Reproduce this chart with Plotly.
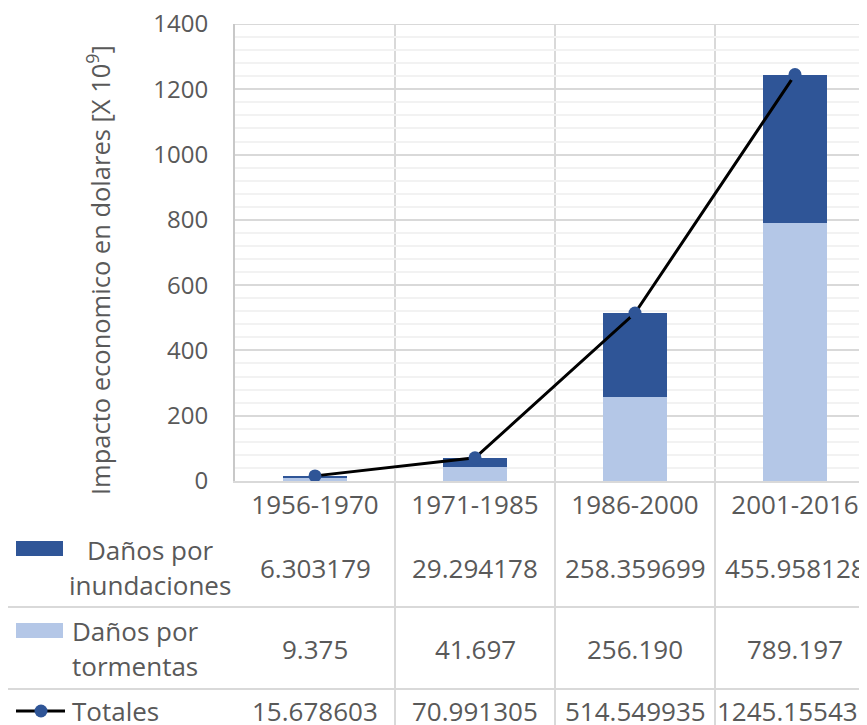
import plotly.graph_objects as go

categories = ["1956-1970", "1971-1985", "1986-2000", "2001-2016"]
inundaciones = [6.303179, 29.294178, 258.359699, 455.958128]
tormentas = [9.375, 41.697, 256.190, 789.197]
totales = [15.678603, 70.991305, 514.549935, 1245.155435]
inund_labels = ["6.303179", "29.294178", "258.359699", "455.958128"]
torm_labels = ["9.375", "41.697", "256.190", "789.197"]
tot_labels = ["15.678603", "70.991305", "514.549935", "1245.155435"]
y_ticks = [0, 200, 400, 600, 800, 1000, 1200, 1400]

# page body has an 8px margin; work in reference pixels and shift
OFF = 8
W, H = 867 - OFF, 725 - OFF
L, T = 235 - OFF, 24 - OFF
PW, PH = 632, 457
R = W - L - PW
B = H - T - PH
BOTTOM = T + PH

def px_x(X):
    return (X - OFF - L) / PW

def px_y(Y):
    return (BOTTOM - (Y - OFF)) / PH

DARK = "#2F5597"
LIGHT = "#B4C7E7"
TXT = "#595959"
GRID = "#D9D9D9"
FONT = "Open Sans"

xs = list(range(len(categories)))

fig = go.Figure()
fig.add_trace(go.Bar(x=xs, y=tormentas, marker=dict(color=LIGHT, line=dict(width=0)),
                     width=0.4, name="Daños por tormentas"))
fig.add_trace(go.Bar(x=xs, y=inundaciones, marker=dict(color=DARK, line=dict(width=0)),
                     width=0.4, name="Daños por inundaciones"))
fig.add_trace(go.Scatter(x=xs, y=totales, mode="lines+markers",
                         line=dict(color="black", width=3),
                         marker=dict(color=DARK, size=13), name="Totales"))

shapes = []
# top border gridline
shapes.append(dict(type="line", xref="paper", yref="y", x0=0, x1=1, y0=y_ticks[-1], y1=y_ticks[-1],
                   line=dict(color=GRID, width=2), layer="below"))
for b in [0.5, 1.5, 2.5]:
    shapes.append(dict(type="line", xref="x", yref="paper", x0=b, x1=b,
                       y0=px_y(730), y1=1, line=dict(color=GRID, width=2), layer="below"))
for Y in [607, 689]:
    shapes.append(dict(type="line", xref="paper", yref="paper", x0=px_x(8), x1=1.01,
                       y0=px_y(Y), y1=px_y(Y), line=dict(color=GRID, width=2)))
shapes.append(dict(type="rect", xref="paper", yref="paper", x0=px_x(16), x1=px_x(63),
                   y0=px_y(556), y1=px_y(541), fillcolor=DARK, line=dict(width=0)))
shapes.append(dict(type="rect", xref="paper", yref="paper", x0=px_x(16), x1=px_x(63),
                   y0=px_y(638), y1=px_y(623), fillcolor=LIGHT, line=dict(width=0)))
shapes.append(dict(type="line", xref="paper", yref="paper", x0=px_x(16), x1=px_x(65),
                   y0=px_y(711), y1=px_y(711), line=dict(color="black", width=3)))
shapes.append(dict(type="circle", xref="paper", yref="paper", x0=px_x(34.5), x1=px_x(47.5),
                   y0=px_y(717.5), y1=px_y(704.5), fillcolor=DARK, line=dict(width=0)))

annotations = []
def txt(text, x, Y, xref="x", xanchor="center", size=26):
    annotations.append(dict(text=text, x=x, y=px_y(Y), xref=xref, yref="paper",
                            xanchor=xanchor, yanchor="middle", showarrow=False,
                            font=dict(family=FONT, size=size, color=TXT)))

for i in xs:
    txt(inund_labels[i], i, 568)
    txt(torm_labels[i], i, 649)
    txt(tot_labels[i], i, 711)

txt("Daños por", px_x(150), 550, xref="paper")
txt("inundaciones", px_x(150), 585, xref="paper")
txt("Daños por", px_x(70), 631, xref="paper", xanchor="left")
txt("tormentas", px_x(70), 666, xref="paper", xanchor="left")
txt("Totales", px_x(70), 711, xref="paper", xanchor="left")

annotations.append(dict(text="Impacto economico en dolares [X 10<sup>9</sup>]",
                        x=px_x(98), y=px_y(270), xref="paper", yref="paper",
                        xanchor="center", yanchor="middle", textangle=-90, showarrow=False,
                        font=dict(family=FONT, size=25.5, color=TXT)))

fig.update_layout(
    width=W, height=H, barmode="stack", showlegend=False,
    margin=dict(l=L, r=R, t=T, b=B, autoexpand=False),
    paper_bgcolor="white", plot_bgcolor="white",
    font=dict(family=FONT, color=TXT),
    shapes=shapes, annotations=annotations,
    xaxis=dict(range=[-0.5, -0.5 + PW / 160], tickmode="array", tickvals=xs,
               ticktext=categories, showgrid=False, zeroline=False,
               showline=True, linecolor=GRID, linewidth=2,
               tickfont=dict(family=FONT, size=26, color=TXT), ticks="",
               ticklabeloverflow="allow", fixedrange=True),
    yaxis=dict(range=[0, 1400], tickmode="array", tickvals=y_ticks,
               showgrid=True, gridcolor=GRID,
               gridwidth=1.5, zeroline=False, showline=True, linecolor="#C8C8C8", linewidth=2,
               minor=dict(dtick=40, tick0=0, showgrid=True, gridcolor="#F2F2F2", gridwidth=1.5),
               tickfont=dict(family=FONT, size=24, color=TXT), ticks="",
               ticklabeloverflow="allow", ticklabelstandoff=20, fixedrange=True),
)

fig.write_html("out.html")
